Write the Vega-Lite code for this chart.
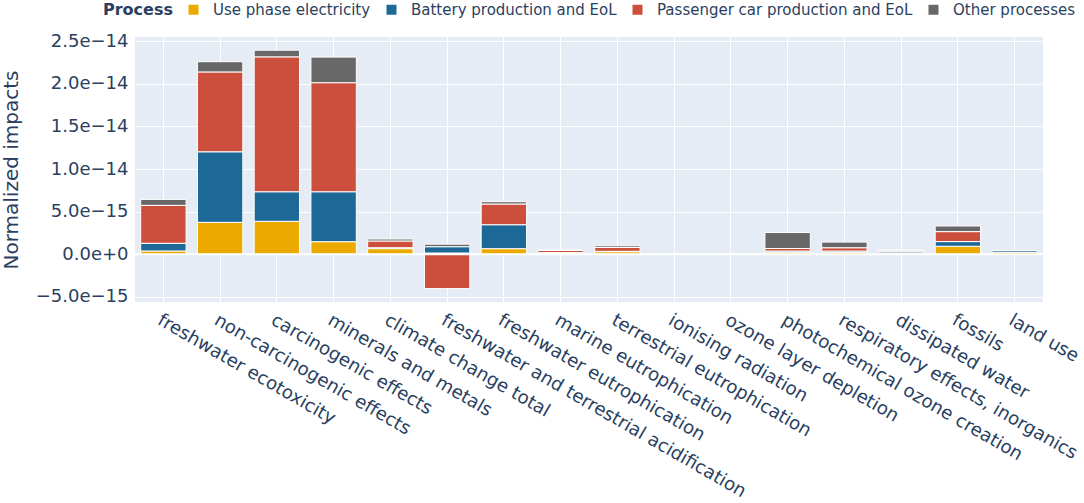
{
  "$schema": "https://vega.github.io/schema/vega-lite/v6.json",
  "width": 908,
  "height": 265,
  "autosize": {"type": "none"},
  "padding": {"left": 135, "top": 37, "right": 41, "bottom": 201},
  "background": "white",
  "datasets": {
    "impacts": [
      {"category": "freshwater ecotoxicity", "process": "Use phase electricity", "rank": 1, "value": 0.39e-15},
      {"category": "freshwater ecotoxicity", "process": "Battery production and EoL", "rank": 2, "value": 0.90e-15},
      {"category": "freshwater ecotoxicity", "process": "Passenger car production and EoL", "rank": 3, "value": 4.45e-15},
      {"category": "freshwater ecotoxicity", "process": "Other processes", "rank": 4, "value": 0.70e-15},
      {"category": "non-carcinogenic effects", "process": "Use phase electricity", "rank": 1, "value": 3.75e-15},
      {"category": "non-carcinogenic effects", "process": "Battery production and EoL", "rank": 2, "value": 8.28e-15},
      {"category": "non-carcinogenic effects", "process": "Passenger car production and EoL", "rank": 3, "value": 9.37e-15},
      {"category": "non-carcinogenic effects", "process": "Other processes", "rank": 4, "value": 1.20e-15},
      {"category": "carcinogenic effects", "process": "Use phase electricity", "rank": 1, "value": 3.87e-15},
      {"category": "carcinogenic effects", "process": "Battery production and EoL", "rank": 2, "value": 3.47e-15},
      {"category": "carcinogenic effects", "process": "Passenger car production and EoL", "rank": 3, "value": 15.83e-15},
      {"category": "carcinogenic effects", "process": "Other processes", "rank": 4, "value": 0.78e-15},
      {"category": "minerals and metals", "process": "Use phase electricity", "rank": 1, "value": 1.48e-15},
      {"category": "minerals and metals", "process": "Battery production and EoL", "rank": 2, "value": 5.86e-15},
      {"category": "minerals and metals", "process": "Passenger car production and EoL", "rank": 3, "value": 12.80e-15},
      {"category": "minerals and metals", "process": "Other processes", "rank": 4, "value": 3.00e-15},
      {"category": "climate change total", "process": "Use phase electricity", "rank": 1, "value": 0.66e-15},
      {"category": "climate change total", "process": "Battery production and EoL", "rank": 2, "value": 0.11e-15},
      {"category": "climate change total", "process": "Passenger car production and EoL", "rank": 3, "value": 0.79e-15},
      {"category": "climate change total", "process": "Other processes", "rank": 4, "value": 0.23e-15},
      {"category": "freshwater and terrestrial acidification", "process": "Use phase electricity", "rank": 1, "value": 0.15e-15},
      {"category": "freshwater and terrestrial acidification", "process": "Battery production and EoL", "rank": 2, "value": 0.74e-15},
      {"category": "freshwater and terrestrial acidification", "process": "Passenger car production and EoL", "rank": 3, "value": -4.03e-15},
      {"category": "freshwater and terrestrial acidification", "process": "Other processes", "rank": 4, "value": 0.30e-15},
      {"category": "freshwater eutrophication", "process": "Use phase electricity", "rank": 1, "value": 0.66e-15},
      {"category": "freshwater eutrophication", "process": "Battery production and EoL", "rank": 2, "value": 2.81e-15},
      {"category": "freshwater eutrophication", "process": "Passenger car production and EoL", "rank": 3, "value": 2.43e-15},
      {"category": "freshwater eutrophication", "process": "Other processes", "rank": 4, "value": 0.27e-15},
      {"category": "marine eutrophication", "process": "Use phase electricity", "rank": 1, "value": 0.15e-15},
      {"category": "marine eutrophication", "process": "Battery production and EoL", "rank": 2, "value": 0.05e-15},
      {"category": "marine eutrophication", "process": "Passenger car production and EoL", "rank": 3, "value": 0.25e-15},
      {"category": "marine eutrophication", "process": "Other processes", "rank": 4, "value": 0.05e-15},
      {"category": "terrestrial eutrophication", "process": "Use phase electricity", "rank": 1, "value": 0.30e-15},
      {"category": "terrestrial eutrophication", "process": "Battery production and EoL", "rank": 2, "value": 0.05e-15},
      {"category": "terrestrial eutrophication", "process": "Passenger car production and EoL", "rank": 3, "value": 0.45e-15},
      {"category": "terrestrial eutrophication", "process": "Other processes", "rank": 4, "value": 0.20e-15},
      {"category": "ionising radiation", "process": "Use phase electricity", "rank": 1, "value": 0.01e-15},
      {"category": "ionising radiation", "process": "Battery production and EoL", "rank": 2, "value": 0.01e-15},
      {"category": "ionising radiation", "process": "Passenger car production and EoL", "rank": 3, "value": 0.01e-15},
      {"category": "ionising radiation", "process": "Other processes", "rank": 4, "value": 0.01e-15},
      {"category": "ozone layer depletion", "process": "Use phase electricity", "rank": 1, "value": 0.01e-15},
      {"category": "ozone layer depletion", "process": "Battery production and EoL", "rank": 2, "value": 0.005e-15},
      {"category": "ozone layer depletion", "process": "Passenger car production and EoL", "rank": 3, "value": 0.005e-15},
      {"category": "ozone layer depletion", "process": "Other processes", "rank": 4, "value": 0.01e-15},
      {"category": "photochemical ozone creation", "process": "Use phase electricity", "rank": 1, "value": 0.23e-15},
      {"category": "photochemical ozone creation", "process": "Battery production and EoL", "rank": 2, "value": 0.15e-15},
      {"category": "photochemical ozone creation", "process": "Passenger car production and EoL", "rank": 3, "value": 0.30e-15},
      {"category": "photochemical ozone creation", "process": "Other processes", "rank": 4, "value": 1.88e-15},
      {"category": "respiratory effects, inorganics", "process": "Use phase electricity", "rank": 1, "value": 0.23e-15},
      {"category": "respiratory effects, inorganics", "process": "Battery production and EoL", "rank": 2, "value": 0.15e-15},
      {"category": "respiratory effects, inorganics", "process": "Passenger car production and EoL", "rank": 3, "value": 0.39e-15},
      {"category": "respiratory effects, inorganics", "process": "Other processes", "rank": 4, "value": 0.66e-15},
      {"category": "dissipated water", "process": "Use phase electricity", "rank": 1, "value": 0.15e-15},
      {"category": "dissipated water", "process": "Battery production and EoL", "rank": 2, "value": 0.15e-15},
      {"category": "dissipated water", "process": "Passenger car production and EoL", "rank": 3, "value": 0.12e-15},
      {"category": "dissipated water", "process": "Other processes", "rank": 4, "value": 0.08e-15},
      {"category": "fossils", "process": "Use phase electricity", "rank": 1, "value": 0.94e-15},
      {"category": "fossils", "process": "Battery production and EoL", "rank": 2, "value": 0.55e-15},
      {"category": "fossils", "process": "Passenger car production and EoL", "rank": 3, "value": 1.17e-15},
      {"category": "fossils", "process": "Other processes", "rank": 4, "value": 0.66e-15},
      {"category": "land use", "process": "Use phase electricity", "rank": 1, "value": 0.23e-15},
      {"category": "land use", "process": "Battery production and EoL", "rank": 2, "value": 0.20e-15},
      {"category": "land use", "process": "Passenger car production and EoL", "rank": 3, "value": 0.02e-15},
      {"category": "land use", "process": "Other processes", "rank": 4, "value": 0.07e-15}
    ]
  },
  "layer": [
    {
      "data": {"name": "impacts"},
      "mark": {"type": "bar", "stroke": "white", "strokeWidth": 1},
      "encoding": {
        "x": {
          "field": "category",
          "type": "nominal",
          "sort": null,
          "title": null,
          "scale": {"paddingInner": 0.2, "paddingOuter": 0.1},
          "axis": {
            "labelAngle": 30,
            "labelAlign": "left",
            "labelBaseline": "top",
            "labelPadding": 9,
            "labelFontSize": 18.2,
            "ticks": false,
            "domain": false,
            "grid": true,
            "bandPosition": 0.5,
            "labelLimit": 500
          }
        },
        "y": {
          "field": "value",
          "type": "quantitative",
          "title": "Normalized impacts",
          "scale": {"domain": [-5.6e-15, 25.5e-15], "nice": false, "zero": false},
          "axis": {
            "values": [-5e-15, 0, 5e-15, 1e-14, 1.5e-14, 2e-14, 2.5e-14],
            "labelExpr": "replace(format(datum.value, '.1e'), regexp('-', 'g'), '\u2212')",
            "ticks": false,
            "domain": false,
            "labelPadding": 7,
            "titlePadding": 14
          }
        },
        "color": {
          "field": "process",
          "type": "nominal",
          "title": "Process",
          "scale": {
            "domain": ["Use phase electricity", "Battery production and EoL", "Passenger car production and EoL", "Other processes"],
            "range": ["#ECAA00", "#1C6896", "#CB4F3C", "#686868"]
          },
          "legend": {
            "orient": "none",
            "direction": "horizontal",
            "legendX": -32,
            "legendY": -35,
            "titleOrient": "left",
            "symbolType": "square",
            "symbolSize": 100,
            "symbolStrokeWidth": 0,
            "labelOffset": 12,
            "labelLimit": 400,
            "columnPadding": 13,
            "titlePadding": 13
          }
        },
        "order": {"field": "rank", "type": "quantitative", "sort": "ascending"}
      }
    },
    {
      "data": {"values": [{}]},
      "mark": {"type": "rule", "color": "white", "strokeWidth": 2},
      "encoding": {
        "y": {"datum": 0, "type": "quantitative", "title": "Normalized impacts"}
      }
    }
  ],
  "config": {
    "font": "DejaVu Sans",
    "view": {"fill": "#E5ECF6", "stroke": null},
    "axis": {
      "gridColor": "white",
      "gridWidth": 1,
      "labelFont": "DejaVu Sans",
      "labelFontSize": 18,
      "labelColor": "#2a3f5f",
      "titleFont": "DejaVu Sans",
      "titleFontSize": 20,
      "titleFontWeight": "normal",
      "titleColor": "#2a3f5f"
    },
    "legend": {
      "labelFont": "DejaVu Sans",
      "labelFontSize": 15,
      "labelColor": "#2a3f5f",
      "titleFont": "DejaVu Sans",
      "titleFontSize": 16,
      "titleFontWeight": "bold",
      "titleColor": "#2a3f5f"
    }
  }
}
